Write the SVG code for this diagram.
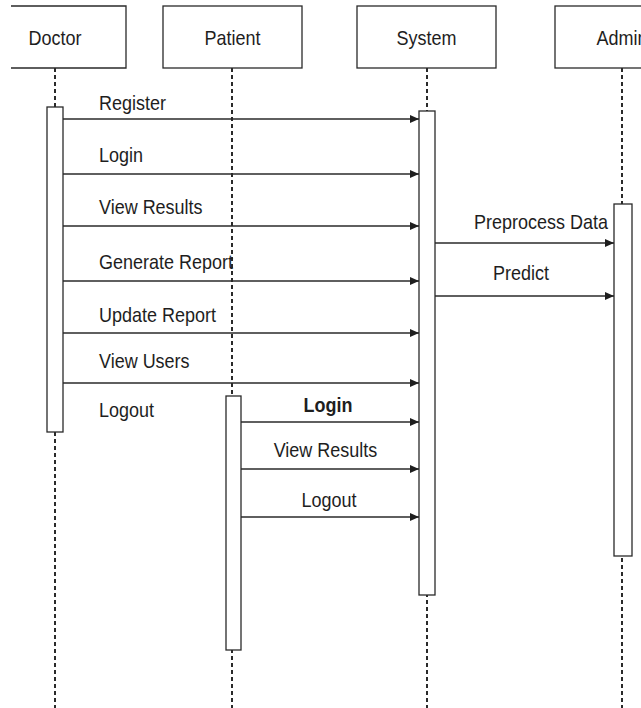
<svg xmlns="http://www.w3.org/2000/svg" width="641" height="708" viewBox="0 0 641 708">
<style>
.box{fill:#fff;stroke:#2a2a2a;stroke-width:1.3}
.life{stroke:#2a2a2a;stroke-width:2;stroke-dasharray:4 3;fill:none}
.act{fill:#fff;stroke:#2a2a2a;stroke-width:1.3}
.msg{stroke:#2a2a2a;stroke-width:1.3;fill:none;marker-end:url(#ah)}
text{font-family:"Liberation Sans",Arial,sans-serif;font-size:18px;fill:#1e1e1e}
.c{text-anchor:middle}
.b{font-weight:bold}
</style>
<defs>
<marker id="ah" markerWidth="10" markerHeight="8" refX="9" refY="4" orient="auto" markerUnits="userSpaceOnUse">
<path d="M0,0 L9,4 L0,8 Z" fill="#1e1e1e"/>
</marker>
</defs>
<rect width="641" height="708" fill="#fff"/>
<g id="doctor">
<path class="box" d="M11,6 H126 V68 H11" />
<line class="life" x1="55" y1="68" x2="55" y2="708"/>
<rect class="act" x="47" y="107" width="16" height="325"/>
<text class="c" x="55" y="45" transform="matrix(1 0 0 1.15 0 -6.75)">Doctor</text>
</g>
<g id="patient">
<rect class="box" x="163" y="6" width="139" height="62"/>
<line class="life" x1="232" y1="68" x2="232" y2="708"/>
<text class="c" x="232.5" y="45" transform="matrix(1 0 0 1.15 0 -6.75)">Patient</text>
</g>
<g id="system">
<rect class="box" x="357" y="6" width="139" height="62"/>
<line class="life" x1="427" y1="68" x2="427" y2="708"/>
<rect class="act" x="419" y="111" width="16" height="484"/>
<text class="c" x="426.5" y="45" transform="matrix(1 0 0 1.15 0 -6.75)">System</text>
</g>
<g id="admin">
<rect class="box" x="555" y="6" width="140" height="62"/>
<line class="life" x1="622" y1="68" x2="622" y2="708"/>
<rect class="act" x="614" y="204" width="18" height="352"/>
<text class="c" x="622" y="45" transform="matrix(1 0 0 1.15 0 -6.75)">Admin</text>
</g>
<g id="patient-activation">
<rect class="act" x="226" y="396" width="15" height="254"/>
</g>
<g id="connectors">
<line class="msg" x1="63" y1="119" x2="419" y2="119"/>
<line class="msg" x1="63" y1="174" x2="419" y2="174"/>
<line class="msg" x1="63" y1="226" x2="419" y2="226"/>
<line class="msg" x1="63" y1="281" x2="419" y2="281"/>
<line class="msg" x1="63" y1="333" x2="419" y2="333"/>
<line class="msg" x1="63" y1="383" x2="419" y2="383"/>
<line class="msg" x1="435" y1="243" x2="614" y2="243"/>
<line class="msg" x1="435" y1="296" x2="614" y2="296"/>
<line class="msg" x1="241" y1="422" x2="419" y2="422"/>
<line class="msg" x1="241" y1="469" x2="419" y2="469"/>
<line class="msg" x1="241" y1="517" x2="419" y2="517"/>
</g>
<g id="labels">
<text x="99" y="110" transform="matrix(1 0 0 1.15 0 -16.5)">Register</text>
<text x="99" y="162" transform="matrix(1 0 0 1.15 0 -24.3)">Login</text>
<text x="99" y="214" transform="matrix(1 0 0 1.15 0 -32.1)">View Results</text>
<text x="99" y="269" transform="matrix(1 0 0 1.15 0 -40.35)">Generate Report</text>
<text x="99" y="322" transform="matrix(1 0 0 1.15 0 -48.3)">Update Report</text>
<text x="99" y="368" transform="matrix(1 0 0 1.15 0 -55.2)">View Users</text>
<text x="99" y="417" transform="matrix(1 0 0 1.15 0 -62.55)">Logout</text>
<text x="474" y="229" transform="matrix(1 0 0 1.15 0 -34.35)">Preprocess Data</text>
<text x="493" y="280" transform="matrix(1 0 0 1.15 0 -42)">Predict</text>
<text class="c b" x="328" y="412" transform="matrix(1 0 0 1.15 0 -61.8)">Login</text>
<text class="c" x="325.5" y="457" transform="matrix(1 0 0 1.15 0 -68.55)">View Results</text>
<text class="c" x="329" y="507" transform="matrix(1 0 0 1.15 0 -76.05)">Logout</text>
</g>
</svg>
